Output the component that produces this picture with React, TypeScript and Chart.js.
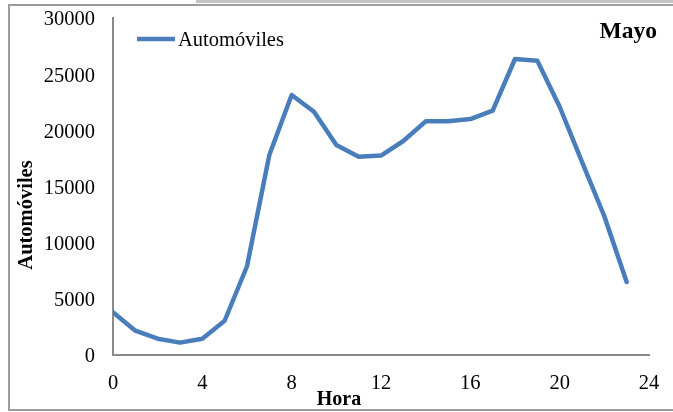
import React, { useEffect, useRef } from "react";
import { Chart, registerables } from "chart.js";

Chart.register(...registerables);

// Hour of day (x) and number of cars (y)
const hours = [0, 1, 2, 3, 4, 5, 6, 7, 8, 9, 10, 11, 12, 13, 14, 15, 16, 17, 18, 19, 20, 21, 22, 23];
const automoviles = [
  3800, 2160, 1450, 1100, 1450, 3050, 7900, 17800, 23150, 21650, 18700, 17650,
  17750, 19050, 20800, 20800, 21000, 21750, 26350, 26200, 22100, 17200, 12350, 6500,
];
const xTickValues = [0, 4, 8, 12, 16, 20, 24];
const yTickValues = [0, 5000, 10000, 15000, 20000, 25000, 30000];

const seriesLabel = "Automóviles";
const xTitle = "Hora";
const yTitle = "Automóviles";
const panelTitle = "Mayo";

const FONT = '"Liberation Serif", "Times New Roman", serif';
const LINE_COLOR = "#4a7ebb";

export default function App() {
  const ref = useRef<HTMLCanvasElement | null>(null);

  useEffect(() => {
    const canvas = ref.current;
    if (!canvas) return;

    const decor = {
      id: "decor",
      beforeDraw(chart: any) {
        const ctx = chart.ctx;
        ctx.save();
        ctx.fillStyle = "#ffffff";
        ctx.fillRect(0, 0, chart.width, chart.height);
        ctx.fillStyle = "#c4c4c4";
        ctx.fillRect(196, 0, chart.width - 196, 3);
        ctx.strokeStyle = "#9c9c9c";
        ctx.lineWidth = 2;
        ctx.beginPath();
        ctx.moveTo(chart.width + 2, 5);
        ctx.lineTo(9, 5);
        ctx.lineTo(9, 410);
        ctx.lineTo(chart.width + 2, 410);
        ctx.stroke();
        ctx.restore();
      },
      afterDraw(chart: any) {
        const ctx = chart.ctx;
        const a = chart.chartArea;
        const ds = chart.data.datasets[0];
        ctx.save();
        // legend
        ctx.strokeStyle = ds.borderColor;
        ctx.lineWidth = 4.5;
        ctx.beginPath();
        ctx.moveTo(a.left + 24, a.top + 21);
        ctx.lineTo(a.left + 62, a.top + 21);
        ctx.stroke();
        ctx.fillStyle = "#000";
        ctx.font = `20.5px ${FONT}`;
        ctx.textAlign = "left";
        ctx.textBaseline = "middle";
        ctx.fillText(ds.label, a.left + 65, a.top + 22.5);
        // panel title
        ctx.font = `bold 23.5px ${FONT}`;
        ctx.textAlign = "right";
        ctx.fillText(panelTitle, a.right + 8, a.top + 14);
        // x title
        ctx.font = `bold 20px ${FONT}`;
        ctx.textAlign = "center";
        ctx.fillText(xTitle, a.left + 226, a.bottom + 44.5);
        // y title
        ctx.font = `bold 20.5px ${FONT}`;
        ctx.translate(27, a.top + 197);
        ctx.rotate(-Math.PI / 2);
        ctx.fillText(yTitle, 0, 0);
        ctx.restore();
      },
    };

    const zeroPad = (s: any) => {
      s.paddingTop = 0;
      s.paddingBottom = 0;
      s.paddingLeft = 0;
      s.paddingRight = 0;
    };

    const chart = new Chart(canvas, {
      type: "line",
      data: {
        datasets: [
          {
            label: seriesLabel,
            data: hours.map((h, i) => ({ x: h, y: automoviles[i] })),
            borderColor: LINE_COLOR,
            backgroundColor: LINE_COLOR,
            borderWidth: 4.5,
            pointRadius: 0,
            tension: 0,
            borderJoinStyle: "round",
            borderCapStyle: "round",
          },
        ],
      },
      options: {
        responsive: false,
        animation: false,
        layout: { padding: { top: 18, right: 24, left: 0, bottom: 0 } },
        plugins: {
          legend: { display: false },
          tooltip: { enabled: false },
        },
        scales: {
          x: {
            type: "linear",
            min: 0,
            max: 24,
            afterFit: (s: any) => {
              s.height = 57;
              zeroPad(s);
            },
            afterBuildTicks: (s: any) => {
              s.ticks = xTickValues.map((v) => ({ value: v }));
            },
            grid: { display: false, drawTicks: false },
            border: { display: true, color: "#8a8a8a", width: 2 },
            ticks: {
              padding: 16,
              color: "#000",
              font: { family: FONT, size: 20.5 },
              maxRotation: 0,
            },
          },
          y: {
            type: "linear",
            min: 0,
            max: 30000,
            afterFit: (s: any) => {
              s.width = 113;
              zeroPad(s);
            },
            afterBuildTicks: (s: any) => {
              s.ticks = yTickValues.map((v) => ({ value: v }));
            },
            grid: { display: false, drawTicks: false },
            border: { display: true, color: "#8a8a8a", width: 2 },
            ticks: {
              padding: 18,
              labelOffset: 2,
              color: "#000",
              font: { family: FONT, size: 20.5 },
              callback: (v: any) => String(v),
            },
          },
        },
      },
      plugins: [decor],
    });

    return () => chart.destroy();
  }, []);

  return (
    <div style={{ position: "fixed", left: 0, top: 0, width: 673, height: 412, overflow: "hidden" }}>
      <canvas ref={ref} width={673} height={412} style={{ display: "block", width: 673, height: 412 }} />
    </div>
  );
}
